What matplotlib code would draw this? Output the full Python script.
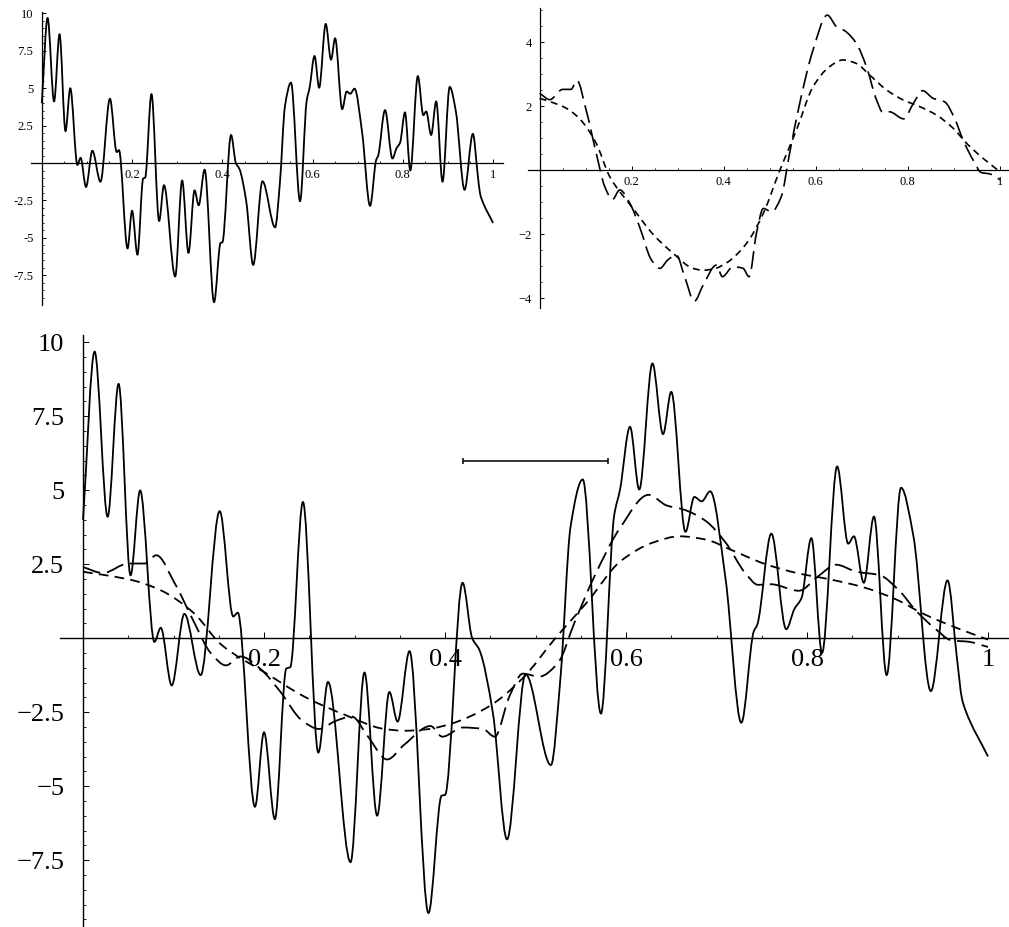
import matplotlib
matplotlib.use("Agg")
import matplotlib.pyplot as plt
import numpy as np
from matplotlib.patches import PathPatch
from matplotlib.path import Path
from matplotlib.ticker import FixedLocator

plt.rcParams["font.family"] = ["Liberation Serif", "DejaVu Serif"]
plt.rcParams["lines.scale_dashes"] = False

# raw signal (solid)
signal_x = [0.000, 0.0128, 0.0272, 0.0393, 0.0525, 0.0631, 0.0789, 0.0859, 0.0980, 0.1120,
            0.1300, 0.1510, 0.1660, 0.1710, 0.1900, 0.2000, 0.2120, 0.2246, 0.2290, 0.2430,
            0.2600, 0.2707, 0.2956, 0.3110, 0.3250, 0.3385, 0.3476, 0.3608, 0.3817, 0.3963,
            0.4000, 0.4194, 0.4300, 0.4380, 0.4530, 0.4685, 0.4890, 0.5170, 0.5277, 0.5387,
            0.5522, 0.5723, 0.5869, 0.5934, 0.6044, 0.6146, 0.6292, 0.6409, 0.6500, 0.6657,
            0.6755, 0.6836, 0.6930, 0.7100, 0.7274, 0.7412, 0.7450, 0.7606, 0.7770, 0.7860,
            0.7940, 0.8048, 0.8166, 0.8333, 0.8455, 0.8518, 0.8628, 0.8740, 0.8880, 0.9039,
            0.9176, 0.9368, 0.9553, 0.9656, 0.9712, 0.9749, 1.0000]
signal_y = [4.00, 9.68, 4.10, 8.59, 2.12, 4.99, -0.13, 0.35, -1.60, 0.82,
            -1.25, 4.29, 0.73, 0.86, -5.70, -3.18, -6.12, -1.03, -0.98, 4.60,
            -3.87, -1.48, -7.57, -1.16, -6.00, -1.82, -2.82, -0.44, -9.29, -5.32,
            -5.30, 1.87, 0.00, -0.40, -2.55, -6.80, -1.22, -4.29, -1.29, 3.76,
            5.36, -2.55, 4.14, 5.02, 7.14, 5.02, 9.28, 6.89, 8.32, 3.59,
            4.77, 4.62, 4.96, 2.00, -2.86, 0.23, 0.45, 3.53, 0.30, 0.98,
            1.36, 3.38, -0.50, 5.80, 3.19, 3.44, 1.87, 4.11, -1.25, 5.08,
            3.44, -1.79, 1.95, -0.66, -2.04, -2.42, -4.00]

# partially smoothed estimate (long dashes)
rough_x = [0.000, 0.022, 0.050, 0.068, 0.081, 0.101, 0.123, 0.141, 0.158, 0.174,
           0.196, 0.217, 0.243, 0.261, 0.279, 0.297, 0.315, 0.336, 0.355, 0.384,
           0.397, 0.420, 0.442, 0.455, 0.471, 0.486, 0.504, 0.525, 0.543, 0.565,
           0.594, 0.625, 0.645, 0.663, 0.688, 0.710, 0.732, 0.746, 0.760, 0.791,
           0.812, 0.832, 0.855, 0.880, 0.902, 0.920, 0.942, 0.960, 0.978, 1.000]
rough_y = [2.40, 2.20, 2.52, 2.52, 2.80, 1.87, 0.52, -0.50, -0.92, -0.62,
           -1.04, -1.77, -2.81, -3.07, -2.80, -2.65, -3.33, -4.10, -3.60, -2.97,
           -3.33, -3.02, -3.07, -3.33, -1.98, -1.20, -1.30, -0.83, 0.52, 2.08,
           3.75, 4.84, 4.48, 4.35, 3.96, 3.23, 2.19, 1.80, 1.82, 1.60,
           2.08, 2.48, 2.24, 2.13, 1.60, 0.94, 0.31, -0.08, -0.12, -0.30]

# fully smoothed estimate (short dashes)
smooth_x = [0.000, 0.030, 0.058, 0.087, 0.123, 0.152, 0.203, 0.246, 0.290, 0.333,
            0.355, 0.380, 0.406, 0.449, 0.486, 0.522, 0.558, 0.594, 0.630, 0.659,
            0.688, 0.717, 0.754, 0.790, 0.826, 0.862, 0.899, 0.928, 0.964, 1.000]
smooth_y = [2.24, 2.10, 1.93, 1.60, 0.83, -0.20, -1.20, -2.00, -2.60, -3.07,
            -3.13, -3.08, -2.90, -2.30, -1.35, 0.00, 1.25, 2.60, 3.23, 3.44,
            3.33, 2.97, 2.50, 2.19, 1.98, 1.72, 1.30, 0.83, 0.36, -0.05]

# window bar drawn in the large panel
window_center = 0.50
window_half = 0.08
window_level = 6.0

x_ticks = [0.2, 0.4, 0.6, 0.8, 1.0]
x_labels = ["0.2", "0.4", "0.6", "0.8", "1"]
big_y_ticks = [10, 7.5, 5, 2.5, -2.5, -5, -7.5]
big_y_labels = ["10", "7.5", "5", "2.5", "\u22122.5", "\u22125", "\u22127.5"]
small_y_labels = ["10", "7.5", "5", "2.5", "-2.5", "-5", "-7.5"]
right_y_ticks = [4, 2, -2, -4]
right_y_labels = ["4", "2", "\u22122", "\u22124"]

LONG_DASH = (0, (13, 5))
SHORT_DASH = (0, (7, 4.5))


def curve_path(x, y):
    # monotone cubic (Fritsch-Carlson slopes) turned into Bezier segments
    x = np.asarray(x, float)
    y = np.asarray(y, float)
    h = np.diff(x)
    d = np.diff(y) / h
    m = np.zeros_like(y)
    m[0] = d[0]
    m[-1] = d[-1]
    for k in range(1, len(x) - 1):
        if d[k - 1] * d[k] > 0:
            w1 = 2 * h[k] + h[k - 1]
            w2 = h[k] + 2 * h[k - 1]
            m[k] = (w1 + w2) / (w1 / d[k - 1] + w2 / d[k])
    verts = [(x[0], y[0])]
    codes = [Path.MOVETO]
    for k in range(len(h)):
        verts += [(x[k] + h[k] / 3, y[k] + m[k] * h[k] / 3),
                  (x[k + 1] - h[k] / 3, y[k + 1] - m[k + 1] * h[k] / 3),
                  (x[k + 1], y[k + 1])]
        codes += [Path.CURVE4] * 3
    return Path(verts, codes)


def draw_curve(ax, x, y, lw, ls="solid"):
    ax.add_patch(PathPatch(curve_path(x, y), fill=False, edgecolor="black",
                           lw=lw, linestyle=ls, joinstyle="round"))


def style_axes(ax, xlim, ylim, yticks, ylabels, yminor, size, xpad, ypad,
               major_len, minor_len, spine_lw):
    ax.set_xlim(*xlim)
    ax.set_ylim(*ylim)
    for side in ("top", "right"):
        ax.spines[side].set_visible(False)
    for side in ("left", "bottom"):
        ax.spines[side].set_position(("data", 0))
        ax.spines[side].set_linewidth(spine_lw)
    ax.set_xticks(x_ticks)
    ax.set_xticklabels(x_labels)
    ax.set_yticks(yticks)
    ax.set_yticklabels(ylabels)
    ax.xaxis.set_minor_locator(FixedLocator(np.arange(0.05, 1.001, 0.05)))
    ax.yaxis.set_minor_locator(FixedLocator(yminor))
    ax.tick_params(which="major", direction="in", length=major_len, width=0.7,
                   labelsize=size)
    ax.tick_params(which="minor", direction="in", length=minor_len, width=0.6)
    ax.tick_params(axis="x", which="major", pad=xpad)
    ax.tick_params(axis="y", which="major", pad=ypad)
    ax.patch.set_alpha(0)


fig = plt.figure(figsize=(10.09, 9.27), dpi=100)

# top left: raw signal
ax1 = fig.add_axes([0.0307, 0.671, 0.4678, 0.316])
style_axes(ax1, (-0.024, 1.022), (-9.47, 10.07), big_y_ticks, small_y_labels,
           np.arange(-9.0, 10.01, 0.5), 9, 4.5, 6.0, 3.0, 1.6, 0.9)
draw_curve(ax1, signal_x, signal_y, 1.3)

# top right: the two smoothed estimates
ax2 = fig.add_axes([0.523, 0.6677, 0.4757, 0.3236])
style_axes(ax2, (-0.026, 1.017), (-4.31, 5.06), right_y_ticks, right_y_labels,
           np.arange(-4.0, 5.01, 0.5), 9, 4.5, 5.5, 3.0, 1.6, 0.9)
draw_curve(ax2, rough_x, rough_y, 1.2, LONG_DASH)
draw_curve(ax2, smooth_x, smooth_y, 1.2, (0, (5, 3.5)))

# bottom: everything overlaid
ax3 = fig.add_axes([0.0595, 0.0, 0.9405, 0.6386])
style_axes(ax3, (-0.0254, 1.0232), (-9.76, 10.24), big_y_ticks, big_y_labels,
           np.arange(-9.5, 10.01, 0.5), 19, 8.0, 13.5, 4.3, 2.5, 1.0)
draw_curve(ax3, signal_x, signal_y, 1.3)
draw_curve(ax3, rough_x, rough_y, 1.3, LONG_DASH)
draw_curve(ax3, smooth_x, smooth_y, 1.3, SHORT_DASH)
ax3.errorbar([window_center], [window_level], xerr=[window_half], fmt="none",
             ecolor="black", elinewidth=1.1, capsize=2, capthick=1.1)

fig.savefig("out.png", dpi=100, facecolor="white")
